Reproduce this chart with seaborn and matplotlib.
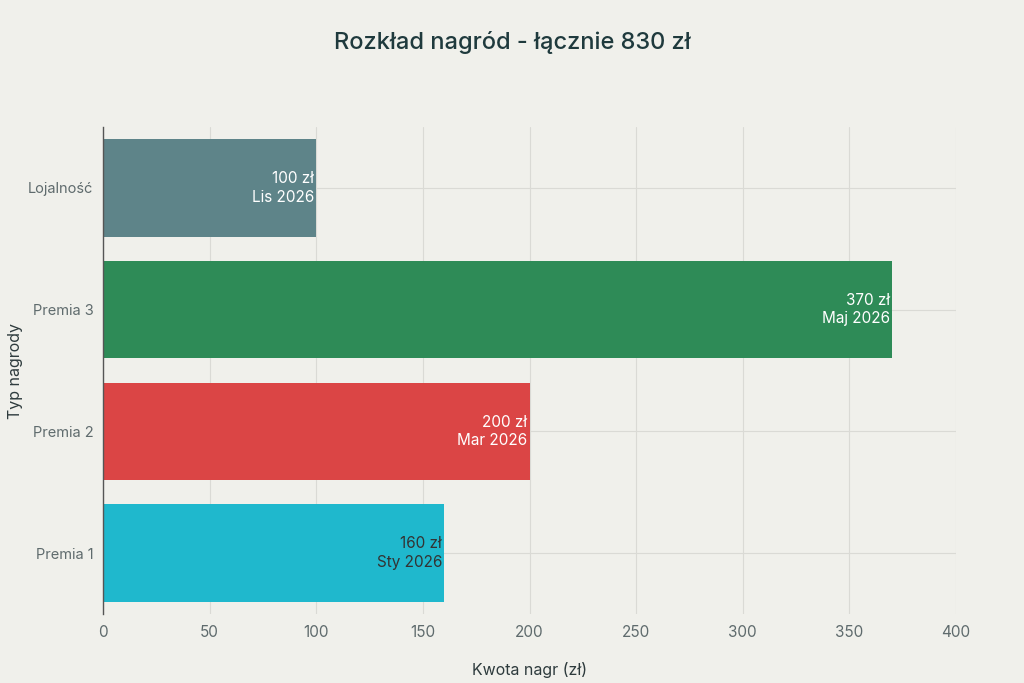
import matplotlib
matplotlib.use("Agg")
import matplotlib.pyplot as plt
import seaborn as sns
import pandas as pd

# data (top to bottom)
categories = ["Lojalność", "Premia 3", "Premia 2", "Premia 1"]
amounts = [100, 370, 200, 160]
dates = ["Lis 2026", "Maj 2026", "Mar 2026", "Sty 2026"]
colors = ["#5E8489", "#2E8B57", "#DB4545", "#1FB8CD"]
text_colors = ["white", "white", "white", "#333333"]

bg = "#F0F0EB"
sns.set_style("whitegrid")
plt.rcParams["font.family"] = ["Inter", "DejaVu Sans"]

df = pd.DataFrame({"Typ": categories, "Kwota": amounts})

fig = plt.figure(figsize=(10.24, 6.83), dpi=100, facecolor=bg)
ax = fig.add_axes([0.1006, 0.101, 0.8330, 0.713])
ax.set_facecolor(bg)

sns.barplot(data=df, x="Kwota", y="Typ", hue="Typ", palette=colors,
            order=categories, width=0.8, legend=False, ax=ax, saturation=1,
            linewidth=0, edgecolor="none")

for i, (v, d) in enumerate(zip(amounts, dates)):
    ax.text(v - 1, i, f"{v} zł\n{d}", ha="right", va="center",
            fontsize=11, color=text_colors[i], linespacing=1.3)

ax.set_xlim(0, 400)
ax.set_ylim(3.5, -0.5)
ax.set_xticks(range(0, 401, 50))
ax.grid(True, color="#DADAD5", linewidth=0.8)
ax.set_axisbelow(True)
for s in ["top", "right", "bottom"]:
    ax.spines[s].set_visible(False)
ax.spines["left"].set_color("#555555")
ax.spines["left"].set_linewidth(1)
ax.tick_params(axis="x", length=0, pad=8, labelsize=11, labelcolor="#5F6B6D")
ax.tick_params(axis="y", length=5, color="#DADAD5", pad=2, labelsize=10.5,
               labelcolor="#5F6B6D")
ax.set_xlabel("Kwota nagr (zł)", fontsize=11.5, color="#2E3B3D", labelpad=16)
ax.set_ylabel("Typ nagrody", fontsize=11.5, color="#2E3B3D")
ax.yaxis.set_label_coords(-0.094, 0.5)

fig.suptitle("Rozkład nagród - łącznie 830 zł", y=0.955, fontsize=17,
             fontweight="medium", color="#1F3A3D")

fig.savefig("out.png", dpi=100, facecolor=bg)
